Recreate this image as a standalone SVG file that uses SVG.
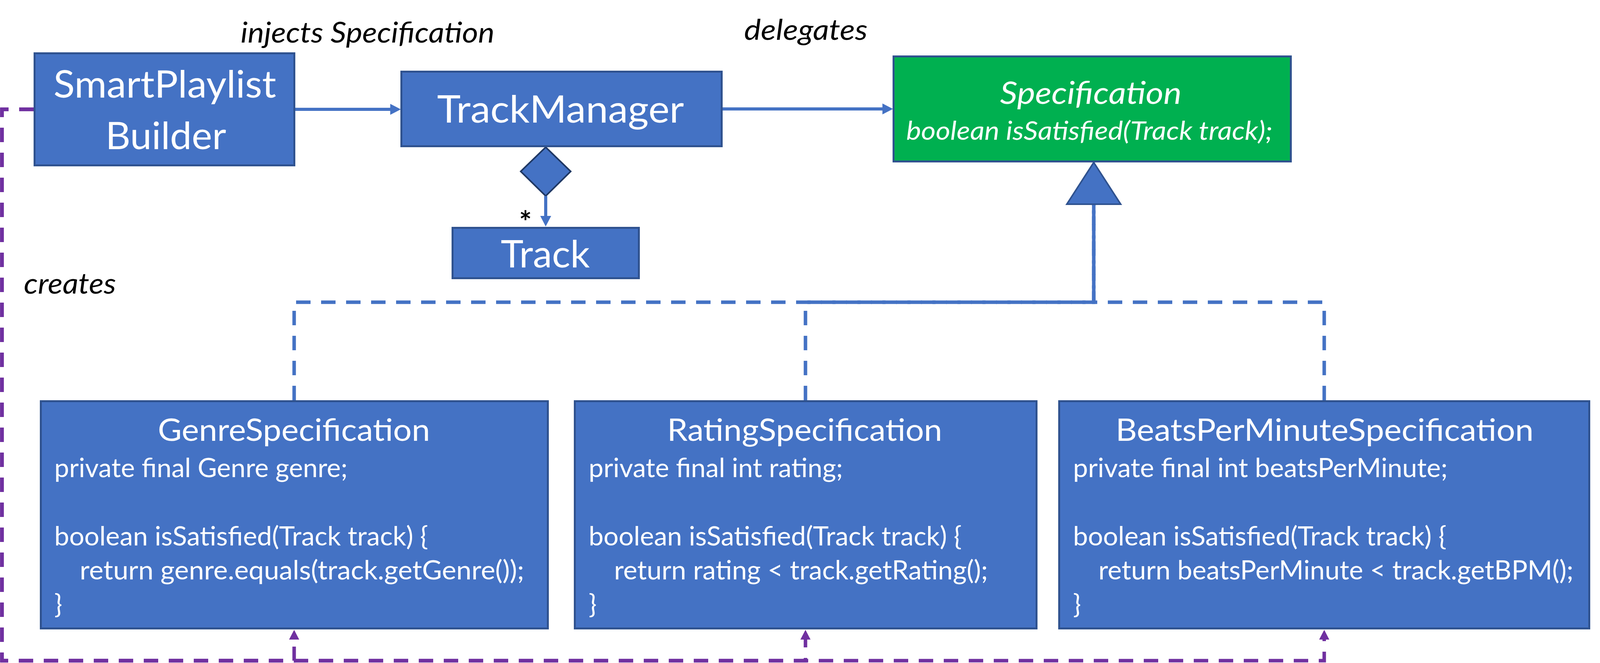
<svg xmlns="http://www.w3.org/2000/svg" width="4329" height="1698" viewBox="0 0 4329 1698">
<style>
.box{fill:#4472C4;stroke:#2F528F;stroke-width:5}
.spec{fill:#00B050;stroke:#2F528F;stroke-width:5}
text{font-family:Lato,"Liberation Sans",sans-serif}
.t{fill:#FFFFFF;font-size:97px}
.st{fill:#FFFFFF;font-size:79px}
.c{fill:#FFFFFF;font-size:68px}
.lbl{fill:#000000;font-size:73px;font-style:italic}
.solid{fill:none;stroke:#4472C4;stroke-width:8}
.dash{fill:none;stroke:#4472C4;stroke-width:9;stroke-dasharray:37 27}
.create{fill:none;stroke:#7030A0;stroke-width:9;stroke-dasharray:37 27}
.head{fill:#4472C4;stroke:#2F528F;stroke-width:4;stroke-linejoin:miter}
</style>
<defs>
<marker id="arr" markerUnits="userSpaceOnUse" viewBox="0 0 27 28" markerWidth="27" markerHeight="28" refX="0" refY="14" orient="auto"><path d="M0,0 L27,14 L0,28 Z" fill="#4472C4"/></marker>
<marker id="arrP" markerUnits="userSpaceOnUse" viewBox="0 0 25 26" markerWidth="25" markerHeight="26" refX="0" refY="13" orient="auto"><path d="M0,0 L25,13 L0,26 Z" fill="#7030A0"/></marker>
</defs>
<rect width="4329" height="1698" fill="#FFFFFF"/>

<g id="connectors">
  <path class="solid" d="M756,280 H999" marker-end="url(#arr)"/>
  <path class="solid" d="M1850,279 H2259" marker-end="url(#arr)"/>
  <polygon points="1397,377 1461,439 1397,502 1333,439" fill="#4472C4" stroke="#1F3864" stroke-width="4"/>
  <path class="solid" d="M1397,502 V553" marker-end="url(#arr)"/>
  <path class="dash" d="M753,1025 V774 H2800 V523"/>
  <path class="dash" d="M2062,1025 V774 H2800 V523"/>
  <path class="dash" d="M3390,1025 V774 H2800 V523"/>
  <polygon class="head" points="2800,416 2869,523 2731,523"/>
  <path class="create" d="M86,280 H5 V1692 H753 V1638" marker-end="url(#arrP)"/>
  <path class="create" d="M86,280 H5 V1692 H2062 V1638" marker-end="url(#arrP)"/>
  <path class="create" d="M86,280 H5 V1692 H3390 V1638" marker-end="url(#arrP)"/>
  <text class="lbl" x="616" y="109" textLength="650" lengthAdjust="spacingAndGlyphs">injects Specification</text>
  <text class="lbl" x="1905" y="102" textLength="316" lengthAdjust="spacingAndGlyphs">delegates</text>
  <text class="lbl" x="61" y="752" textLength="236" lengthAdjust="spacingAndGlyphs">creates</text>
  <text x="1329" y="596" font-size="76" font-weight="bold" fill="#000000">*</text>
</g>

<g id="smartPlaylistBuilder">
  <rect class="box" x="88.5" y="136.5" width="665" height="287"/>
  <text class="t" x="137" y="250" textLength="570" lengthAdjust="spacingAndGlyphs">SmartPlaylist</text>
  <text class="t" x="270" y="382" textLength="309" lengthAdjust="spacingAndGlyphs">Builder</text>
</g>

<g id="trackManager">
  <rect class="box" x="1027.5" y="183.5" width="820" height="191"/>
  <text class="t" x="1119" y="314" textLength="632" lengthAdjust="spacingAndGlyphs">TrackManager</text>
</g>

<g id="track">
  <rect class="box" x="1158.5" y="583.5" width="477" height="129"/>
  <text class="t" x="1282" y="685" textLength="228" lengthAdjust="spacingAndGlyphs">Track</text>
</g>

<g id="specification">
  <rect class="spec" x="2287.5" y="144.5" width="1017" height="269"/>
  <text x="2560" y="266" fill="#FFFFFF" font-size="80" font-style="italic" textLength="465" lengthAdjust="spacingAndGlyphs">Specification</text>
  <text x="2320" y="358" fill="#FFFFFF" font-size="66" font-style="italic" textLength="938" lengthAdjust="spacingAndGlyphs">boolean isSatisfied(Track track);</text>
</g>

<g id="genreSpecification">
  <rect class="box" x="104.5" y="1027.5" width="1298" height="582"/>
  <text class="st" x="404" y="1129" textLength="697" lengthAdjust="spacingAndGlyphs">GenreSpecification</text>
  <text class="c" x="139" y="1222" textLength="751" lengthAdjust="spacingAndGlyphs">private final Genre genre;</text>
  <text class="c" x="139" y="1397" textLength="957" lengthAdjust="spacingAndGlyphs">boolean isSatisfied(Track track) {</text>
  <text class="c" x="204" y="1484" textLength="1138" lengthAdjust="spacingAndGlyphs">return genre.equals(track.getGenre());</text>
  <text class="c" x="139" y="1571">}</text>
</g>

<g id="ratingSpecification">
  <rect class="box" x="1471.5" y="1027.5" width="1182" height="582"/>
  <text class="st" x="1708" y="1129" textLength="704" lengthAdjust="spacingAndGlyphs">RatingSpecification</text>
  <text class="c" x="1507" y="1222" textLength="651" lengthAdjust="spacingAndGlyphs">private final int rating;</text>
  <text class="c" x="1507" y="1397" textLength="955" lengthAdjust="spacingAndGlyphs">boolean isSatisfied(Track track) {</text>
  <text class="c" x="1572" y="1484" textLength="957" lengthAdjust="spacingAndGlyphs">return rating &lt; track.getRating();</text>
  <text class="c" x="1507" y="1571">}</text>
</g>

<g id="beatsPerMinuteSpecification">
  <rect class="box" x="2711.5" y="1027.5" width="1357" height="582"/>
  <text class="st" x="2856" y="1129" textLength="1070" lengthAdjust="spacingAndGlyphs">BeatsPerMinuteSpecification</text>
  <text class="c" x="2747" y="1222" textLength="959" lengthAdjust="spacingAndGlyphs">private final int beatsPerMinute;</text>
  <text class="c" x="2747" y="1397" textLength="956" lengthAdjust="spacingAndGlyphs">boolean isSatisfied(Track track) {</text>
  <text class="c" x="2812" y="1484" textLength="1216" lengthAdjust="spacingAndGlyphs">return beatsPerMinute &lt; track.getBPM();</text>
  <text class="c" x="2747" y="1571">}</text>
</g>

<g id="ellipsis">
  <text x="4173" y="1360" font-size="100" font-weight="bold" fill="#000000" textLength="68" lengthAdjust="spacingAndGlyphs">...</text>
</g>
</svg>
